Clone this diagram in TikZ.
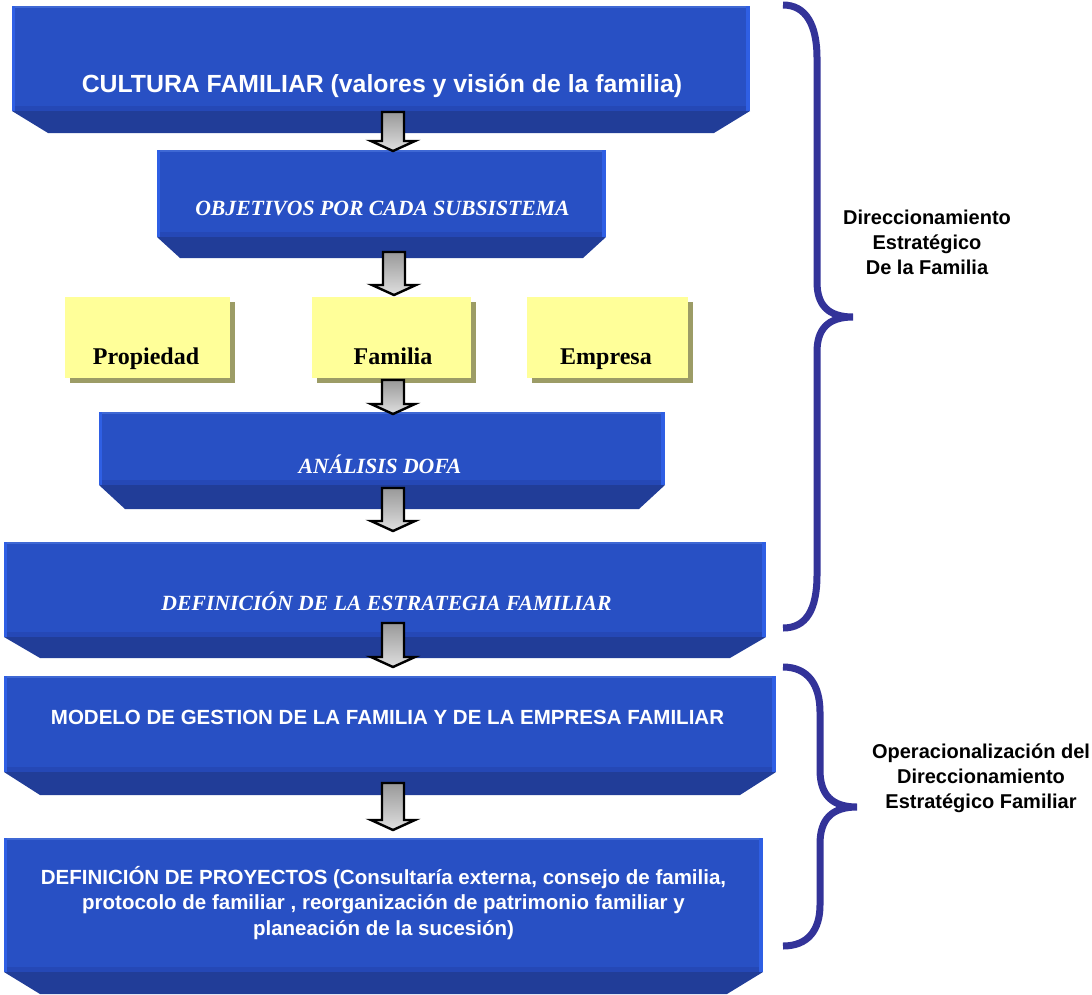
\documentclass[tikz,border=0pt]{standalone}
\usepackage{fontspec}
\setmainfont{Liberation Serif}
\setsansfont{Liberation Sans}
\usetikzlibrary{calc}

\definecolor{boxface}{HTML}{2850C4}
\definecolor{boxedge}{HTML}{2F5FE4}
\definecolor{boxtopline}{HTML}{3F68D4}
\definecolor{boxlow}{HTML}{2548B6}
\definecolor{boxbevel}{HTML}{213D98}
\definecolor{notefill}{HTML}{FFFF99}
\definecolor{noteshadow}{HTML}{9C9C66}
\definecolor{bracecol}{HTML}{333399}

\tikzset{
  facebox/.style={draw=none, fill=boxface, inner sep=0pt, outer sep=0pt},
  notebox/.style={draw=none, fill=notefill, inner sep=0pt, outer sep=0pt},
  sanstitle/.style={font=\sffamily\bfseries\fontsize{20.5}{25.5}\selectfont, text=white, align=center, inner sep=0pt, anchor=base},
  seriftitle/.style={font=\rmfamily\bfseries\itshape\fontsize{21.7}{26}\selectfont, text=white, inner sep=0pt, anchor=base},
  notetext/.style={font=\rmfamily\bfseries\fontsize{24}{28}\selectfont, text=black, inner sep=0pt, anchor=base},
  sidelabel/.style={font=\sffamily\bfseries\fontsize{20}{25}\selectfont, text=black, align=center, inner sep=0pt},
  bracepath/.style={draw=bracecol, line width=7pt},
  arrowbody/.style={draw=black, line width=2.4pt, line join=miter, top color=gray!80, bottom color=gray!25}
}

% stage box: name, x1, y1, x2, y2 of the front face, lower edge of the bevel, bevel inset
\newcommand\stagebox[7]{%
  \fill[boxbevel] (#2,#5) -- (#4,#5) -- (#4-#7,#6) -- (#2+#7,#6) -- cycle;
  \node[facebox, minimum width={(#4-#2)*1pt}, minimum height={(#5-#3)*1pt}]
    (#1) at ({(#2+#4)/2},{(#3+#5)/2}) {};
  \fill[boxlow] (#2,#5-5) rectangle (#4,#5);
  \fill[boxtopline] (#2,#3) rectangle (#4,#3+2);
  \fill[boxedge] (#2,#3) rectangle (#2+3,#5);
  \fill[boxedge] (#4-4,#3) rectangle (#4,#5);
}

% note card with drop shadow: name, x1, y1, x2, y2
\newcommand\notecard[5]{%
  \fill[noteshadow] (#2+5,#3+5) rectangle (#4+5,#5+5);
  \node[notebox, minimum width={(#4-#2)*1pt}, minimum height={(#5-#3)*1pt}]
    (#1) at ({(#2+#4)/2},{(#3+#5)/2}) {};
}

% block arrow from one named coordinate down to another
\newcommand\flowarrow[2]{%
  \path[arrowbody] let \p1=(#1), \p2=(#2) in
    (\x1-11pt,\y1) -- (\x1+11pt,\y1) -- (\x1+11pt,\y2+10pt) -- (\x1+22pt,\y2+10pt)
    -- (\x2,\y2) -- (\x1-22pt,\y2+10pt) -- (\x1-11pt,\y2+10pt) -- cycle;
}

\begin{document}
\begin{tikzpicture}[x=1pt, y=-1pt]
\useasboundingbox (0,0) rectangle (1092,994);

% stage boxes
\stagebox{cultura}{12}{6}{750}{111}{133}{36}
\stagebox{objetivos}{157}{150}{606}{237}{258}{23}
\stagebox{dofa}{99}{412}{665}{485}{509}{26}
\stagebox{estrategia}{4}{542}{766}{637}{658}{36}
\stagebox{modelo}{4}{676}{776}{772}{795}{36}
\stagebox{proyectos}{4}{838}{763}{972}{994}{36}

% subsystem cards
\notecard{propiedad}{65}{297}{230}{378}
\notecard{familia}{312}{297}{471}{378}
\notecard{empresa}{527}{297}{688}{378}

% texts
\node[sanstitle, font=\sffamily\bfseries\fontsize{24.8}{30}\selectfont] (tcultura) at (382,92)
  {CULTURA FAMILIAR (valores y visión de la familia)};
\node[seriftitle] (tobjetivos) at (382.5,215) {OBJETIVOS POR CADA SUBSISTEMA};
\node[notetext] (tpropiedad) at (146,364) {Propiedad};
\node[notetext] (tfamilia) at (393,364) {Familia};
\node[notetext] (tempresa) at (606,364) {Empresa};
\node[seriftitle] (tdofa) at (380,473) {ANÁLISIS DOFA};
\node[seriftitle] (testrategia) at (386.5,610) {DEFINICIÓN DE LA ESTRATEGIA FAMILIAR};
\node[sanstitle] (tmodelo) at (387.5,724)
  {MODELO DE GESTION DE LA FAMILIA Y DE LA EMPRESA FAMILIAR};
\node[sanstitle, anchor=north] (tproyectos) at (383.5,866)
  {DEFINICIÓN DE PROYECTOS (Consultaría externa, consejo de familia,\\
   protocolo de familiar , reorganización de patrimonio familiar y\\
   planeación de la sucesión)};

% arrow end points
\coordinate (a1s) at (393,112);  \coordinate (a1e) at (393,151);
\coordinate (a2s) at (394,252);  \coordinate (a2e) at (394,295);
\coordinate (a3s) at (393,380);  \coordinate (a3e) at (393,414);
\coordinate (a4s) at (393,488);  \coordinate (a4e) at (393,531);
\coordinate (a5s) at (393,623);  \coordinate (a5e) at (393,667);
\coordinate (a6s) at (393,783);  \coordinate (a6e) at (393,830);

\flowarrow{a1s}{a1e}
\flowarrow{a2s}{a2e}
\flowarrow{a3s}{a3e}
\flowarrow{a4s}{a4e}
\flowarrow{a5s}{a5e}
\flowarrow{a6s}{a6e}

% braces
\draw[bracepath] (783,5) .. controls (806,5) and (817,25) .. (817,58)
  -- (817,282) .. controls (817,305) and (828,317) .. (853,317)
  .. controls (828,317) and (817,329) .. (817,352)
  -- (817,575) .. controls (817,610) and (806,628) .. (783,628);
\draw[bracepath] (783,667) .. controls (808,667) and (820,685) .. (820,712)
  -- (820,770) .. controls (820,795) and (832,807) .. (857,807)
  .. controls (832,807) and (820,819) .. (820,844)
  -- (820,905) .. controls (820,930) and (808,946) .. (783,946);

\node[sidelabel] (ldireccion) at (927,242)
  {Direccionamiento\\Estratégico\\De la Familia};
\node[sidelabel] (loperacion) at (981,778)
  {Operacionalización del\\Direccionamiento\\Estratégico Familiar};
\end{tikzpicture}
\end{document}
